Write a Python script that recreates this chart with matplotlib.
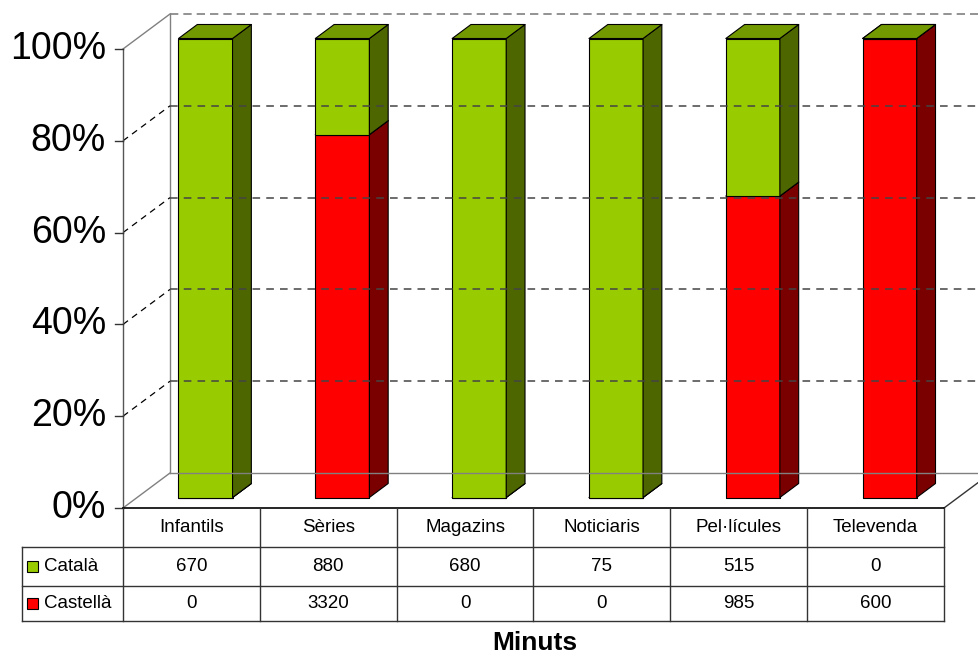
import numpy as np
import matplotlib.pyplot as plt
from matplotlib.patches import Polygon, Rectangle

plt.rcParams['font.family'] = ['Liberation Sans', 'DejaVu Sans']

categories = ["Infantils", "Sèries", "Magazins", "Noticiaris", "Pel·lícules", "Televenda"]
catala = [670, 880, 680, 75, 515, 0]
castella = [0, 3320, 0, 0, 985, 600]
series_names = ["Català", "Castellà"]
y_ticks = [0, 20, 40, 60, 80, 100]

# face colours: front, side, top
green = ("#99CC00", "#4D6600", "#739900")
red = ("#FF0000", "#7A0000", "#BF0000")

W, H = 979, 659
fig = plt.figure(figsize=(W / 100, H / 100), dpi=100)

# front plane of the plot: x = category units, y = percent
left_px, right_px, top_px, bot_px = 123, 944, 49, 508
ax = fig.add_axes([left_px / W, (H - bot_px) / H, (right_px - left_px) / W, (bot_px - top_px) / H])
n = len(categories)
ax.set_xlim(0, n)
ax.set_ylim(0, 100)
ax.axis("off")

px_x = n / (right_px - left_px)      # data units per pixel
px_y = 100 / (bot_px - top_px)
DX, DY = 47 * px_x, 35 * px_y        # full depth of the 3d box
bar_w = 0.395
d_front, d_back = 0.3, 0.7           # bar depth range as a fraction of the box


def line(xs, ys, **kw):
    ax.plot(xs, ys, clip_on=False, **kw)


# walls and floor
grey = "#808080"
line([DX, DX], [DY, 100 + DY], color=grey, lw=1)
line([0, DX], [100, 100 + DY], color=grey, lw=1)
line([0, DX], [0, DY], color=grey, lw=1)
line([DX, n + DX], [DY, DY], color=grey, lw=1)
line([DX, n + DX], [100 + DY, 100 + DY], color=grey, lw=1.2, ls=(0, (5, 3)))
line([n, n + DX], [0, DY], color="#333333", lw=1)

# gridlines on side and back wall
for t in y_ticks[1:-1]:
    line([0, DX], [t, t + DY], color="black", lw=0.9, ls=(0, (5, 4)))
    line([DX, n + DX], [t + DY, t + DY], color="#444444", lw=1.1, ls=(0, (5, 4)))

# value axis and ticks
line([0, 0], [0, 100], color="#555555", lw=1)
for t in y_ticks:
    line([-8 * px_x, 0], [t, t], color="#333333", lw=1)
    ax.text(-17 * px_x, t, f"{t}%", ha="right", va="center", fontsize=27, clip_on=False)


def box(x0, y0, y1, cols):
    ox0, oy0 = d_front * DX, d_front * DY
    ox1, oy1 = d_back * DX, d_back * DY
    xl, xr = x0 + ox0, x0 + ox0 + bar_w
    yb, yt = y0 + oy0, y1 + oy0
    dx, dy = ox1 - ox0, oy1 - oy0
    kw = dict(ec="black", lw=0.8, clip_on=False, joinstyle="round")
    ax.add_patch(Polygon([(xl, yb), (xr, yb), (xr, yt), (xl, yt)], fc=cols[0], **kw))
    ax.add_patch(Polygon([(xr, yb), (xr + dx, yb + dy), (xr + dx, yt + dy), (xr, yt)], fc=cols[1], **kw))
    ax.add_patch(Polygon([(xl, yt), (xr, yt), (xr + dx, yt + dy), (xl + dx, yt + dy)], fc=cols[2], **kw))


cat = np.array(catala, float)
cas = np.array(castella, float)
tot = cat + cas
cas_pct = cas / tot * 100
for i in range(n):
    x0 = i + 0.5 - bar_w / 2
    box(x0, 0, cas_pct[i], red)
    box(x0, cas_pct[i], 100, green)

# data table under the plot
row_h = [39 * px_y, 39 * px_y, 35 * px_y]
y_rows = [0, -row_h[0], -row_h[0] - row_h[1], -sum(row_h)]
leg_x = -101 * px_x
tc = "#333333"
line([0, n], [0, 0], color="black", lw=1.2)
for y in y_rows[1:]:
    line([leg_x, n], [y, y], color=tc, lw=1)
for k in range(n + 1):
    line([k, k], [0, y_rows[-1]], color=tc, lw=1)
line([leg_x, leg_x], [y_rows[1], y_rows[-1]], color=tc, lw=1)

fs = 13.5
for i, c in enumerate(categories):
    ax.text(i + 0.5, (y_rows[0] + y_rows[1]) / 2, c, ha="center", va="center", fontsize=fs, clip_on=False)
for r, (vals, cols, name) in enumerate(zip([catala, castella], [green, red], series_names)):
    yc = (y_rows[r + 1] + y_rows[r + 2]) / 2
    for i, v in enumerate(vals):
        ax.text(i + 0.5, yc, str(v), ha="center", va="center", fontsize=fs, clip_on=False)
    sq = 11
    ax.add_patch(Rectangle((leg_x + 5 * px_x, yc - sq / 2 * px_y), sq * px_x, sq * px_y,
                           fc=cols[0], ec="black", lw=0.8, clip_on=False))
    ax.text(leg_x + 22 * px_x, yc, name, ha="left", va="center", fontsize=fs, clip_on=False)

fig.text(535 / W, 1 - 643 / H, "Minuts", ha="center", va="center", fontsize=19, fontweight="bold")

fig.savefig("out.png", dpi=100)
